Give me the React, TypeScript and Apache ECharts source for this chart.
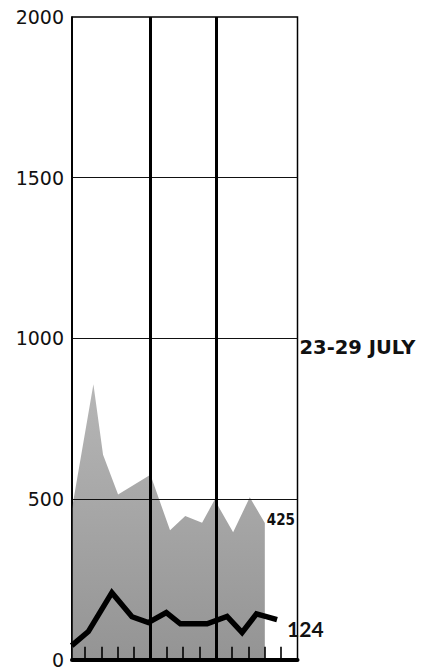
import React, { useEffect, useRef } from "react";
import * as echarts from "echarts";

// x positions are in tick units along the bottom axis (14 tick spaces)
const areaX = [0.2, 1.51, 2.1, 3.02, 5.0, 6.2, 7.13, 8.16, 8.93, 10.06, 11.08, 12.0];
const areaY = [470, 857, 637, 514, 575, 402, 447, 426, 497, 396, 505, 425];

const lineX = [0.18, 1.2, 2.64, 3.87, 4.87, 5.97, 6.83, 8.47, 9.69, 10.61, 11.49, 12.75];
const lineY = [43, 87, 208, 133, 115, 146, 111, 111, 134, 84, 142, 124];

const yTicks = [0, 500, 1000, 1500, 2000];
const gridValues = [500, 1000, 1500];
const dividerPositions = [5, 9];
const tickMarks = [1, 2, 3, 4, 6, 7, 8, 10, 11, 12, 13];
const tickHeight = 40;
const periodLabel = "23-29 JULY";
const xMin = 0.2;
const xMax = 14;

export default function App() {
  const ref = useRef<HTMLDivElement>(null);
  useEffect(() => {
    if (!ref.current) return;
    const chart = echarts.init(ref.current, null, { renderer: "svg" });
    const markData: any[] = [];
    gridValues.forEach((v) => {
      markData.push({
        yAxis: v,
        lineStyle: { color: "#111", width: 1.2, type: "solid" },
        label:
          v === 1000
            ? {
                show: true,
                position: "end",
                formatter: periodLabel,
                color: "#111",
                fontFamily: "DejaVu Sans",
                fontWeight: "bold",
                fontSize: 19.5,
                distance: 2,
                verticalAlign: "top",
                lineHeight: 18,
              }
            : { show: false },
      });
    });
    dividerPositions.forEach((x) => {
      markData.push({
        xAxis: x,
        lineStyle: { color: "#000", width: 3, type: "solid" },
        label: { show: false },
      });
    });
    tickMarks.forEach((x) => {
      markData.push([
        { coord: [x, 0], lineStyle: { color: "#000", width: 1.6, type: "solid" }, label: { show: false } },
        { coord: [x, tickHeight] },
      ]);
    });
    markData.push({
      xAxis: xMin,
      lineStyle: { color: "#000", width: 1.5, type: "solid" },
      label: { show: false },
    });

    chart.setOption({
      animation: false,
      grid: {
        left: 72,
        right: 137.5,
        top: 17,
        bottom: 5,
        show: true,
        borderColor: "#000",
        borderWidth: 1.5,
        backgroundColor: "transparent",
      },
      xAxis: {
        type: "value",
        min: xMin,
        max: xMax,
        axisLine: { show: true, lineStyle: { color: "#000", width: 4 } },
        axisTick: { show: false },
        axisLabel: { show: false },
        splitLine: { show: false },
        z: 10,
      },
      yAxis: {
        type: "value",
        min: yTicks[0],
        max: yTicks[yTicks.length - 1],
        interval: 500,
        axisLine: { show: true, lineStyle: { color: "#000", width: 1.5 } },
        axisTick: { show: false },
        axisLabel: {
          fontFamily: "DejaVu Sans",
          fontSize: 19,
          color: "#111",
          margin: 8,
          formatter: (v: number) => String(v),
        },
        splitLine: { show: false },
      },
      series: [
        {
          type: "line",
          data: areaX.map((x, i) => [x, areaY[i]]),
          symbol: "none",
          lineStyle: { width: 0 },
          areaStyle: {
            opacity: 1,
            color: new echarts.graphic.LinearGradient(0, 0, 0, 1, [
              { offset: 0, color: "#b6b6b6" },
              { offset: 1, color: "#949494" },
            ]),
          },
          endLabel: {
            show: true,
            formatter: (p: any) => String(p.value[1]),
            fontFamily: "DejaVu Sans Condensed",
            fontWeight: "bold",
            fontSize: 15,
            color: "#111",
            distance: 2,
            offset: [0, -3],
          },
          z: 2,
        },
        {
          type: "line",
          data: [],
          symbol: "none",
          markLine: {
            silent: true,
            symbol: "none",
            animation: false,
            data: markData,
          },
          z: 5,
        },
        {
          type: "line",
          data: lineX.map((x, i) => [x, lineY[i]]),
          symbol: "none",
          lineStyle: { color: "#000", width: 5.5, join: "miter" },
          endLabel: {
            show: true,
            formatter: (p: any) => String(p.value[1]),
            fontFamily: "Lato",
            fontWeight: "bold",
            fontSize: 21,
            color: "#111",
            distance: 10,
            offset: [0, 9],
          },
          z: 6,
        },
      ],
    });
    return () => chart.dispose();
  }, []);
  return (
    <div
      ref={ref}
      style={{ position: "absolute", left: 0, top: 0, width: 435, height: 669, background: "#fff" }}
    />
  );
}
